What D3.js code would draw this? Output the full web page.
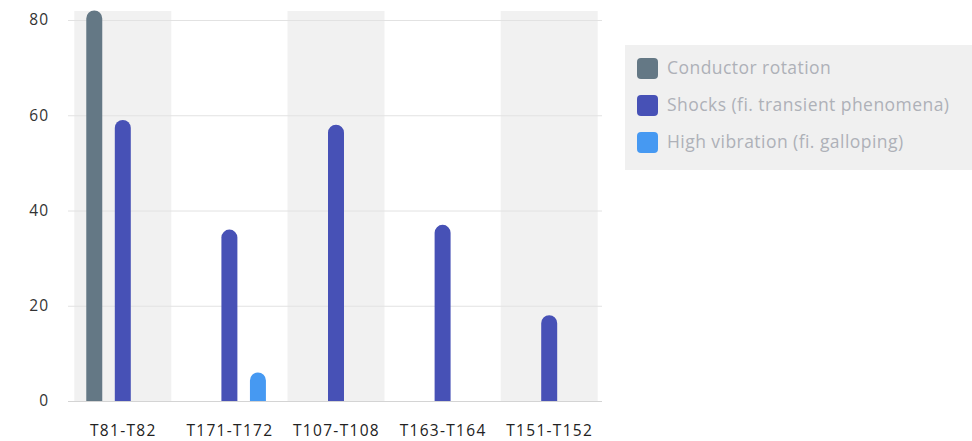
<!DOCTYPE html>
<html>
<head>
<meta charset="utf-8">
<script src="https://cdn.jsdelivr.net/npm/d3@7"></script>
<style>
  html, body { margin: 0; padding: 0; background: #fff; }
  svg { display: block; font-family: "Open Sans", "Noto Sans", sans-serif; }
</style>
</head>
<body>
<svg id="chart" width="972" height="441"></svg>
<script>
// Spans along the line and event counts per cause
const categories = ["T81-T82", "T171-T172", "T107-T108", "T163-T164", "T151-T152"];
const seriesNames = ["Conductor rotation", "Shocks (fi. transient phenomena)", "High vibration (fi. galloping)"];
const conductorRotation = [82, 0, 0, 0, 0];
const shocks = [59, 36, 58, 37, 18];
const highVibration = [0, 6, 0, 0, 0];
const yTicks = [0, 20, 40, 60, 80];
const colors = ["#647885", "#4751b6", "#4699f2"];

const seriesValues = [conductorRotation, shocks, highVibration];
const fontFamily = "'Open Sans', 'Noto Sans', sans-serif";

const svg = d3.select("#chart");

const x = d3.scaleBand()
  .domain(categories)
  .range([69.5, 602.5])
  .paddingInner(0.09)
  .paddingOuter(0.045);

const x1 = d3.scaleBand()
  .domain(seriesNames)
  .range([0, x.bandwidth()])
  .paddingInner(0.44)
  .paddingOuter(0.42);

const y = d3.scaleLinear().domain([0, 80]).range([401, 20]);

// Alternate shaded category bands
svg.append("g").selectAll("rect")
  .data(categories.filter((d, i) => i % 2 === 0))
  .join("rect")
  .attr("x", d => x(d))
  .attr("y", 11)
  .attr("width", x.bandwidth())
  .attr("height", y(0) - 11)
  .attr("fill", "#f1f1f1");

// Horizontal grid
svg.append("g").selectAll("line")
  .data(yTicks)
  .join("line")
  .attr("x1", 68).attr("x2", 602)
  .attr("y1", d => y(d) + 0.5).attr("y2", d => y(d) + 0.5)
  .attr("stroke", d => d === 0 ? "#d4d4d4" : "#e2e2e2")
  .attr("stroke-width", 1);

// Y axis labels
const yAxis = svg.append("g")
  .attr("transform", "translate(49,0)")
  .call(d3.axisLeft(y).tickValues(yTicks).tickSize(0).tickPadding(0));
yAxis.select(".domain").remove();
yAxis.selectAll("text")
  .attr("font-size", 15.5)
  .attr("letter-spacing", 1)
  .attr("fill", "#333")
  .attr("font-family", fontFamily);

// X axis labels (baseline set explicitly so descenders stay inside the frame)
const xAxis = svg.append("g")
  .attr("transform", "translate(0.5,0)")
  .call(d3.axisBottom(x).tickSize(0).tickPadding(0));
xAxis.select(".domain").remove();
xAxis.selectAll("text")
  .attr("y", 436)
  .attr("dy", null)
  .attr("font-size", 15.5)
  .attr("letter-spacing", 1.3)
  .attr("fill", "#222")
  .attr("font-family", fontFamily);

// Bars with rounded tops
function roundedTopBar(x0, w, yTop, yBase) {
  const r = Math.min(w / 2, (yBase - yTop));
  return `M${x0},${yBase}V${yTop + r}A${r},${r} 0 0 1 ${x0 + r},${yTop}` +
         `H${x0 + w - r}A${r},${r} 0 0 1 ${x0 + w},${yTop + r}V${yBase}Z`;
}

const bars = [];
categories.forEach((c, ci) => {
  seriesNames.forEach((s, si) => {
    const v = seriesValues[si][ci];
    if (v > 0) bars.push({ c, s, si, v });
  });
});

svg.append("g").selectAll("path")
  .data(bars)
  .join("path")
  .attr("d", d => roundedTopBar(x(d.c) + x1(d.s), x1.bandwidth(), y(d.v), y(0)))
  .attr("fill", d => colors[d.si]);

// Legend
const legend = svg.append("g");
legend.append("rect")
  .attr("x", 625).attr("y", 45)
  .attr("width", 360).attr("height", 125)
  .attr("fill", "#f0f0f0");

const items = legend.selectAll("g.item")
  .data(seriesNames)
  .join("g")
  .attr("class", "item")
  .attr("transform", (d, i) => `translate(637,${58 + i * 37})`);

items.append("rect")
  .attr("width", 21).attr("height", 21)
  .attr("rx", 4)
  .attr("fill", (d, i) => colors[i]);

items.append("text")
  .attr("x", 30).attr("y", 16)
  .attr("font-size", 17.5)
  .attr("letter-spacing", 0.45)
  .attr("font-family", fontFamily)
  .attr("fill", "#aeb1b8")
  .text(d => d);
</script>
</body>
</html>
